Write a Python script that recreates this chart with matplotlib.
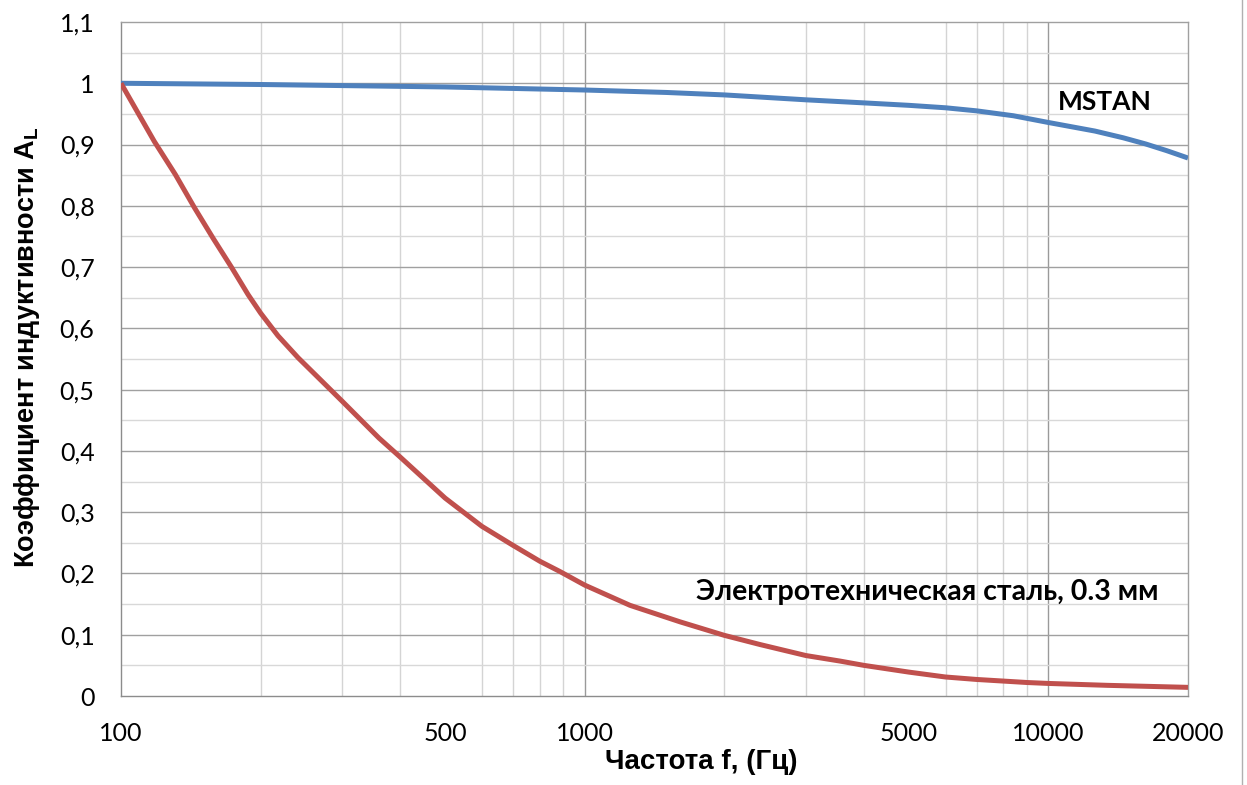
"""
Коэффициент индуктивности A_L в зависимости от частоты: MSTAN vs электротехническая сталь
"""

import matplotlib
matplotlib.use('Agg')
import matplotlib.pyplot as plt
from matplotlib.lines import Line2D
from matplotlib.ticker import FixedLocator, NullFormatter

# --- данные ---
mstan_freq = [100, 200, 500, 1000, 1500, 2000, 3000, 4000, 5000, 6000, 7000, 8400, 10000,
              12600, 14500, 16200, 18000, 20000]
mstan_al = [1.0, 0.998, 0.994, 0.989, 0.985, 0.981, 0.973, 0.968, 0.964, 0.960, 0.955, 0.947,
            0.936, 0.922, 0.911, 0.901, 0.890, 0.878]

steel_freq = [100, 118, 131, 144, 158, 173, 188, 200, 218, 241, 271, 300, 360, 400, 500, 600,
              700, 800, 885, 1000, 1252, 1606, 2000, 2388, 3000, 3553, 4000, 5000, 6000,
              7000, 9000, 10000, 13400, 20000]
steel_al = [1.0, 0.905, 0.851, 0.797, 0.747, 0.700, 0.655, 0.625, 0.588, 0.552, 0.514, 0.481,
            0.421, 0.390, 0.323, 0.277, 0.246, 0.220, 0.203, 0.181, 0.148, 0.121, 0.099,
            0.084, 0.066, 0.057, 0.050, 0.039, 0.031, 0.027, 0.022, 0.0205, 0.0174, 0.0141]

x_ticks = [100, 500, 1000, 5000, 10000, 20000]
x_tick_labels = ['100', '500', '1000', '5000', '10000', '20000']
y_ticks = [0, 0.1, 0.2, 0.3, 0.4, 0.5, 0.6, 0.7, 0.8, 0.9, 1.0, 1.1]
y_tick_labels = ['0', '0,1', '0,2', '0,3', '0,4', '0,5', '0,6', '0,7', '0,8', '0,9', '1', '1,1']
x_minor_grid = [200, 300, 400, 600, 700, 800, 900, 2000, 3000, 4000, 6000, 7000, 8000, 9000]
x_major_grid = [1000, 10000]
y_minor_grid = [0.05, 0.15, 0.25, 0.35, 0.45, 0.55, 0.65, 0.75, 0.85, 0.95, 1.05]

BLUE = '#4F81BD'
RED = '#C0504D'
TICK_FONT = ['Lato', 'DejaVu Sans']
LABEL_FONT = ['Liberation Sans Narrow', 'Liberation Sans', 'DejaVu Sans']

plt.rcParams['mathtext.fontset'] = 'custom'
plt.rcParams['mathtext.bf'] = 'Liberation Sans:bold'
plt.rcParams['mathtext.rm'] = 'Liberation Sans:bold'

figure = plt.figure(figsize=(12.47, 7.85), dpi=100)
axis = figure.add_axes([121 / 1247, 1 - 696 / 785, (1188 - 121) / 1247, (696 - 22) / 785])

axis.set_xscale('log')
axis.set_xlim(100, 20000)
axis.set_ylim(0, 1.1)

for value in x_minor_grid:
    axis.axvline(value, color='#d4d4d4', linewidth=1.0, zorder=1)
for value in x_major_grid:
    axis.axvline(value, color='#9a9a9a', linewidth=1.0, zorder=1)
for value in y_minor_grid:
    axis.axhline(value, color='#d8d8d8', linewidth=1.0, zorder=1)
for value in y_ticks[1:-1]:
    axis.axhline(value, color='#a0a0a0', linewidth=1.0, zorder=1)

axis.plot(mstan_freq, mstan_al, color=BLUE, linewidth=3.6, solid_capstyle='butt',
          solid_joinstyle='round', zorder=3)
axis.plot(steel_freq, steel_al, color=RED, linewidth=3.6, solid_capstyle='butt',
          solid_joinstyle='round', zorder=3)

axis.xaxis.set_major_locator(FixedLocator(x_ticks))
axis.xaxis.set_minor_formatter(NullFormatter())
axis.set_xticks(x_ticks, x_tick_labels)
axis.set_yticks(y_ticks, y_tick_labels)
axis.tick_params(axis='both', which='both', length=0, labelsize=18, colors='black')
axis.tick_params(axis='y', pad=19)
axis.tick_params(axis='x', pad=19)
for label in axis.get_xticklabels() + axis.get_yticklabels():
    label.set_family(TICK_FONT)

for side in ['left', 'bottom']:
    axis.spines[side].set_color('#8c8c8c')
    axis.spines[side].set_linewidth(1.0)
for side in ['top', 'right']:
    axis.spines[side].set_color('#a0a0a0')
    axis.spines[side].set_linewidth(1.0)

figure.text(1058 / 1247, 1 - 102 / 785, 'MSTAN', family=TICK_FONT, fontsize=19,
            fontweight='bold', ha='left', va='center')
figure.text(696 / 1247, 1 - 592 / 785, 'Электротехническая сталь, 0.3 мм', family=TICK_FONT,
            fontsize=20.5, fontweight='bold', ha='left', va='center')

figure.text(701 / 1247, 1 - 762 / 785, 'Частота f, (Гц)', family=LABEL_FONT, fontsize=20,
            fontweight='bold', ha='center', va='center')
figure.text(27 / 1247, 1 - 347 / 785, r'Коэффициент индуктивности A$_{\mathbf{L}}$',
            family=LABEL_FONT, fontsize=19.5, fontweight='bold', rotation=90,
            ha='center', va='center')

# граница страницы справа
figure.add_artist(Line2D([1242 / 1247, 1242 / 1247], [0, 1], transform=figure.transFigure,
                         color='#b0b0b0', linewidth=1.0))

figure.savefig('out.png', dpi=100)
plt.close(figure)
